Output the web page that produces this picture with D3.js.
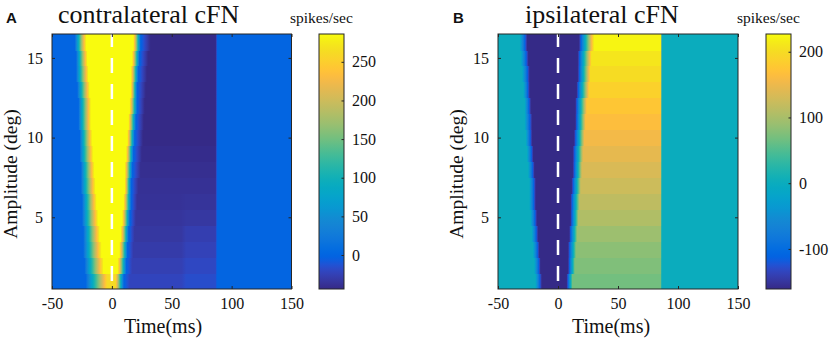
<!DOCTYPE html>
<html>
<head>
<meta charset="utf-8">
<script src="https://cdn.jsdelivr.net/npm/d3@7"></script>
<style>
  body { margin: 0; background: #fff; }
  svg text { font-family: "Liberation Serif", "Times New Roman", serif; fill: #111; }
</style>
</head>
<body>
<div id="chart"></div>
<script>
// ---- data ----
const amplitudes = [1, 2, 3, 4, 5, 6, 7, 8, 9, 10, 11, 12, 13, 14, 15, 16];
const timeTicks = [-50, 0, 50, 100, 150];
const ampTicks = [5, 10, 15];
const cbTicksA = [0, 50, 100, 150, 200, 250];
const cbTicksB = [-100, 0, 100, 200];

// contralateral cFN: burst then pause (ms, spikes/sec), index 0 = 1 deg
const aRiseStart  = [-22, -23, -24, -24, -25, -25, -26, -26, -27, -27, -28, -28, -29, -30, -30, -31];
const aPeakStart  = [-4, -7, -8, -9, -10, -11, -12, -13, -14, -15, -16, -16, -17, -18, -19, -20];
const aPeakEnd    = [3, 5, 6, 7, 8, 9, 10, 10, 11, 12, 13, 14, 15, 15, 16, 17];
const aFallEnd    = [10, 12, 13, 14, 15, 16, 16, 17, 18, 19, 20, 21, 21, 22, 23, 24];
const aPauseStart = [15, 17, 18, 19, 20, 21, 22, 24, 25, 26, 27, 28, 29, 30, 31, 33];
const aPeak       = [262, 285, 300, 310, 320, 330, 330, 330, 330, 330, 330, 330, 330, 330, 330, 330];
const aPauseEarly = [-22, -26, -30, -33, -35, -37, -38, -40, -42, -44, -46, -48, -48, -48, -48, -48];
const aPauseLate  = [-16, -20, -24, -27, -33, -36, -38, -40, -42, -44, -46, -48, -48, -48, -48, -48];
const aPauseSplit = 58;
const aPauseEnd = 87;

// ipsilateral cFN: pause then rebound
const bPauseOn      = [-19, -20, -21, -22, -23, -24, -24, -25, -26, -27, -28, -28, -29, -30, -31, -32];
const bPauseFull    = [-13, -14, -15, -16, -17, -18, -18, -19, -20, -21, -21, -22, -23, -23, -24, -25];
const bPauseEnd     = [7, 8, 8, 9, 10, 10, 11, 12, 12, 13, 14, 14, 15, 16, 16, 17];
const bReboundStart = [12, 14, 15, 16, 17, 18, 19, 20, 21, 22, 23, 24, 26, 27, 28, 30];
const bRebound      = [68, 75, 82, 92, 105, 115, 125, 135, 145, 155, 165, 175, 188, 200, 210, 222];
const bPauseLevel = -175;
const bReboundEnd = 86;

// parula colormap
const parulaRGB = [
  [0.2081,0.1663,0.5292],[0.2116,0.1898,0.5777],[0.2123,0.2138,0.6270],[0.2081,0.2386,0.6771],
  [0.1959,0.2645,0.7279],[0.1707,0.2919,0.7792],[0.1253,0.3242,0.8303],[0.0591,0.3598,0.8683],
  [0.0117,0.3875,0.8820],[0.0060,0.4086,0.8828],[0.0165,0.4266,0.8786],[0.0329,0.4430,0.8720],
  [0.0498,0.4586,0.8641],[0.0629,0.4737,0.8554],[0.0723,0.4887,0.8467],[0.0779,0.5040,0.8384],
  [0.0793,0.5200,0.8312],[0.0749,0.5375,0.8263],[0.0641,0.5570,0.8240],[0.0488,0.5772,0.8228],
  [0.0343,0.5966,0.8199],[0.0265,0.6137,0.8135],[0.0239,0.6287,0.8038],[0.0231,0.6418,0.7913],
  [0.0228,0.6535,0.7768],[0.0267,0.6642,0.7607],[0.0384,0.6743,0.7436],[0.0590,0.6838,0.7254],
  [0.0843,0.6928,0.7062],[0.1133,0.7015,0.6859],[0.1453,0.7098,0.6646],[0.1801,0.7177,0.6424],
  [0.2178,0.7250,0.6193],[0.2586,0.7317,0.5954],[0.3022,0.7376,0.5712],[0.3482,0.7424,0.5473],
  [0.3953,0.7459,0.5244],[0.4420,0.7481,0.5033],[0.4871,0.7491,0.4840],[0.5300,0.7491,0.4661],
  [0.5709,0.7485,0.4494],[0.6099,0.7473,0.4337],[0.6473,0.7456,0.4188],[0.6834,0.7435,0.4044],
  [0.7184,0.7411,0.3905],[0.7525,0.7384,0.3768],[0.7858,0.7356,0.3633],[0.8185,0.7327,0.3498],
  [0.8507,0.7299,0.3360],[0.8824,0.7274,0.3217],[0.9139,0.7258,0.3063],[0.9450,0.7261,0.2886],
  [0.9739,0.7314,0.2666],[0.9938,0.7455,0.2403],[0.9990,0.7653,0.2164],[0.9955,0.7861,0.1967],
  [0.9880,0.8066,0.1794],[0.9789,0.8271,0.1633],[0.9697,0.8481,0.1475],[0.9626,0.8705,0.1309],
  [0.9589,0.8949,0.1132],[0.9598,0.9218,0.0948],[0.9661,0.9514,0.0755],[0.9763,0.9831,0.0538]
];
const parulaColors = parulaRGB.map(c => d3.rgb(c[0] * 255, c[1] * 255, c[2] * 255).formatHex());
const parula = d3.piecewise(d3.interpolateRgb, parulaColors);

// per-row rate profiles as knots [time, rate]
function knotsA(i) {
  return [[-50, 0], [aRiseStart[i], 0], [aPeakStart[i], aPeak[i]], [aPeakEnd[i], aPeak[i]],
    [aFallEnd[i], 0], [aPauseStart[i], aPauseEarly[i]], [aPauseSplit, aPauseEarly[i]],
    [aPauseSplit + 4, aPauseLate[i]], [aPauseEnd - 0.5, aPauseLate[i]], [aPauseEnd + 1, 0], [150, 0]];
}
function knotsB(i) {
  return [[-50, 0], [bPauseOn[i], 0], [bPauseFull[i], bPauseLevel], [bPauseEnd[i], bPauseLevel],
    [bReboundStart[i], bRebound[i]], [bReboundEnd - 0.5, bRebound[i]], [bReboundEnd + 0.5, 0], [150, 0]];
}

const W = 829, H = 339;
const plotTop = 34, plotBottom = 289;
const serif = '"Liberation Serif", "Times New Roman", serif';
const plainNum = d => String(d);   // hyphen-minus like the original

const svg = d3.select("#chart").append("svg")
  .attr("width", W).attr("height", H);
const defs = svg.append("defs");

const panels = [
  { id: "A", title: "contralateral cFN", left: 52, right: 291.5, knots: knotsA,
    cDomain: [-44, 286], cbX: 319, cbTicks: cbTicksA,
    titleX: 58, unitX: 290, letterX: 6, xLabelX: 163, yLabelX: 16.5 },
  { id: "B", title: "ipsilateral cFN", left: 498, right: 738, knots: knotsB,
    cDomain: [-161, 227], cbX: 766, cbTicks: cbTicksB,
    titleX: 525, unitX: 737, letterX: 453, xLabelX: 611, yLabelX: 463 }
];

const axisColor = "#262626";

function styleAxis(ax) {
  ax.attr("font-family", null).attr("font-size", null);
  ax.select(".domain").remove();
  ax.selectAll(".tick line").attr("stroke", axisColor);
  ax.selectAll(".tick text").style("font-size", "16px").style("font-family", serif).style("fill", "#111");
}

panels.forEach(p => {
  const x = d3.scaleLinear().domain([-50, 150]).range([p.left, p.right]);
  const y = d3.scaleLinear().domain([0.5, 16.5]).range([plotBottom, plotTop]);
  const color = d3.scaleSequential(parula).domain(p.cDomain).clamp(true);
  const g = svg.append("g");

  // heatmap rows
  const samples = d3.range(-50, 150.01, 0.5);
  amplitudes.forEach((a, i) => {
    const k = p.knots(i);
    const prof = d3.scaleLinear().domain(k.map(d => d[0])).range(k.map(d => d[1]));
    const gid = "grad" + p.id + i;
    const grad = defs.append("linearGradient").attr("id", gid)
      .attr("gradientUnits", "userSpaceOnUse")
      .attr("x1", x(-50)).attr("x2", x(150)).attr("y1", 0).attr("y2", 0);
    grad.selectAll("stop").data(samples).join("stop")
      .attr("offset", t => (t + 50) / 200)
      .attr("stop-color", t => color(prof(t)));
    const y0 = y(a + 0.5), y1 = y(a - 0.5);
    g.append("rect")
      .attr("x", x(-50)).attr("width", x(150) - x(-50))
      .attr("y", y0).attr("height", y1 - y0 + (i > 0 ? 0.6 : 0))
      .attr("shape-rendering", "crispEdges")
      .attr("fill", "url(#" + gid + ")");
  });

  // dashed line at saccade onset
  g.append("line")
    .attr("x1", x(0)).attr("x2", x(0)).attr("y1", plotTop).attr("y2", plotBottom)
    .attr("stroke", "#fff").attr("stroke-width", 2.5)
    .attr("stroke-dasharray", "15,11").attr("stroke-dashoffset", 2);

  // axes (ticks inside, box)
  const xb = g.append("g").attr("transform", `translate(0,${plotBottom})`)
    .call(d3.axisBottom(x).tickValues(timeTicks).tickFormat(plainNum).tickSizeInner(-3).tickSizeOuter(0).tickPadding(9));
  const xt = g.append("g").attr("transform", `translate(0,${plotTop})`)
    .call(d3.axisTop(x).tickValues(timeTicks).tickSizeInner(-3).tickSizeOuter(0).tickFormat(""));
  const yl = g.append("g").attr("transform", `translate(${p.left},0)`)
    .call(d3.axisLeft(y).tickValues(ampTicks).tickFormat(plainNum).tickSizeInner(-3).tickSizeOuter(0).tickPadding(9));
  const yr = g.append("g").attr("transform", `translate(${p.right},0)`)
    .call(d3.axisRight(y).tickValues(ampTicks).tickSizeInner(-3).tickSizeOuter(0).tickFormat(""));
  [xb, xt, yl, yr].forEach(styleAxis);
  g.append("rect")
    .attr("x", p.left).attr("y", plotTop).attr("width", p.right - p.left).attr("height", plotBottom - plotTop)
    .attr("fill", "none").attr("stroke", axisColor).attr("stroke-width", 1);

  // labels
  g.append("text").attr("x", p.xLabelX).attr("y", 333).attr("text-anchor", "middle")
    .style("font-size", "20px").text("Time(ms)");
  g.append("text").attr("transform", `translate(${p.yLabelX},174) rotate(-90)`)
    .attr("text-anchor", "middle").style("font-size", "19.5px").text("Amplitude (deg)");
  g.append("text").attr("x", p.titleX).attr("y", 23).style("font-size", "26px").text(p.title);
  g.append("text").attr("x", p.letterX).attr("y", 23).style("font-size", "15px")
    .style("font-weight", "bold").style("font-family", '"Liberation Sans", Arial, sans-serif').text(p.id);
  g.append("text").attr("x", p.unitX).attr("y", 23).style("font-size", "15.5px").text("spikes/sec");

  // colorbar
  const cb = d3.scaleLinear().domain(p.cDomain).range([plotBottom, plotTop]);
  const cgid = "cb" + p.id;
  const cgrad = defs.append("linearGradient").attr("id", cgid)
    .attr("x1", 0).attr("x2", 0).attr("y1", 1).attr("y2", 0);
  cgrad.selectAll("stop").data(parulaColors).join("stop")
    .attr("offset", (d, i) => i / (parulaColors.length - 1))
    .attr("stop-color", d => d);
  g.append("rect").attr("x", p.cbX).attr("y", plotTop).attr("width", 25).attr("height", plotBottom - plotTop)
    .attr("fill", "url(#" + cgid + ")");
  const cax = g.append("g").attr("transform", `translate(${p.cbX + 25},0)`)
    .call(d3.axisRight(cb).tickValues(p.cbTicks).tickFormat(plainNum).tickSizeInner(-2.5).tickSizeOuter(0).tickPadding(8));
  styleAxis(cax);
  g.append("rect").attr("x", p.cbX).attr("y", plotTop).attr("width", 25).attr("height", plotBottom - plotTop)
    .attr("fill", "none").attr("stroke", axisColor).attr("stroke-width", 1);
});
</script>
</body>
</html>
